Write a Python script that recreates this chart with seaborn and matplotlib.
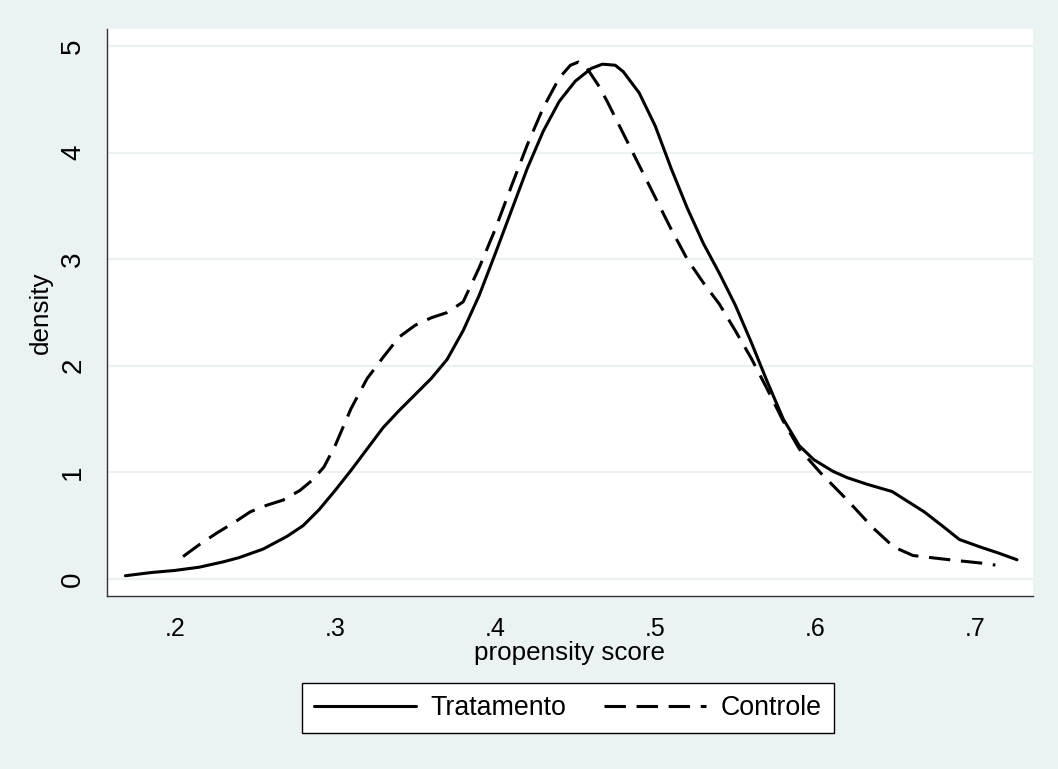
import matplotlib
matplotlib.use('Agg')
import matplotlib.pyplot as plt
from matplotlib.lines import Line2D
import pandas as pd
import seaborn as sns

# Data (kernel density of propensity score)
trat_x = [0.169, 0.185, 0.20, 0.215, 0.23, 0.24, 0.255, 0.27, 0.28, 0.29, 0.30, 0.31,
          0.32, 0.33, 0.34, 0.35, 0.36, 0.37, 0.38, 0.39, 0.40, 0.41, 0.42, 0.43,
          0.44, 0.45, 0.46, 0.467, 0.475, 0.48, 0.49, 0.50, 0.51, 0.52, 0.53, 0.54,
          0.55, 0.56, 0.57, 0.58, 0.59, 0.599, 0.611, 0.62, 0.632, 0.648, 0.668,
          0.68, 0.69, 0.703, 0.715, 0.726]
trat_y = [0.03, 0.06, 0.08, 0.11, 0.16, 0.20, 0.28, 0.40, 0.50, 0.65, 0.83, 1.02,
          1.22, 1.42, 1.58, 1.73, 1.88, 2.06, 2.33, 2.66, 3.05, 3.45, 3.85, 4.20,
          4.48, 4.67, 4.79, 4.83, 4.82, 4.76, 4.56, 4.25, 3.85, 3.48, 3.15, 2.87,
          2.57, 2.22, 1.85, 1.50, 1.25, 1.12, 1.01, 0.95, 0.89, 0.82, 0.63,
          0.49, 0.37, 0.30, 0.24, 0.18]

ctrl_x = [0.205, 0.215, 0.226, 0.237, 0.247, 0.257, 0.2675, 0.278, 0.286, 0.293, 0.30,
          0.31, 0.32, 0.33, 0.34, 0.35, 0.36, 0.37, 0.38, 0.39, 0.40, 0.41, 0.42,
          0.43, 0.44, 0.447, 0.452, 0.457, 0.465, 0.47, 0.48, 0.49, 0.50, 0.51,
          0.52, 0.53, 0.54, 0.55, 0.56, 0.57, 0.58, 0.59, 0.603, 0.62, 0.636,
          0.649, 0.661, 0.678, 0.69, 0.703, 0.7125]
ctrl_y = [0.21, 0.32, 0.43, 0.53, 0.63, 0.69, 0.74, 0.83, 0.93, 1.05, 1.25,
          1.60, 1.88, 2.08, 2.27, 2.38, 2.45, 2.50, 2.60, 2.92, 3.28, 3.68, 4.07,
          4.42, 4.70, 4.82, 4.85, 4.80, 4.62, 4.48, 4.18, 3.88, 3.58, 3.28,
          3.00, 2.78, 2.58, 2.33, 2.07, 1.78, 1.48, 1.22, 1.00, 0.74, 0.48,
          0.30, 0.22, 0.19, 0.17, 0.15, 0.13]

df = pd.concat([
    pd.DataFrame({'ps': trat_x, 'dens': trat_y, 'grupo': 'Tratamento'}),
    pd.DataFrame({'ps': ctrl_x, 'dens': ctrl_y, 'grupo': 'Controle'}),
])

bg = '#EAF2F3'
dash = (7, 3.5)
sns.set_style('white')
plt.rcParams['font.family'] = ['Liberation Sans', 'DejaVu Sans']
plt.rcParams['text.color'] = 'black'
plt.rcParams['axes.labelcolor'] = 'black'
plt.rcParams['xtick.color'] = 'black'
plt.rcParams['ytick.color'] = 'black'

fig = plt.figure(figsize=(10.58, 7.69), dpi=100, facecolor=bg)
ax = fig.add_axes([107 / 1058, 1 - 596 / 769, (1033 - 107) / 1058, (596 - 29) / 769])
ax.set_facecolor('white')

sns.lineplot(data=df, x='ps', y='dens', style='grupo', color='black',
             dashes={'Tratamento': '', 'Controle': dash}, linewidth=2.2,
             sort=False, errorbar=None, legend=False, ax=ax)

ax.set_xlim(0.1575, 0.736)
ax.set_ylim(-0.16, 5.16)
ax.set_xticks([0.2, 0.3, 0.4, 0.5, 0.6, 0.7])
ax.set_xticklabels(['.2', '.3', '.4', '.5', '.6', '.7'])
ax.set_yticks([0, 1, 2, 3, 4, 5])
ax.set_yticklabels(['0', '1', '2', '3', '4', '5'], rotation=90, va='center')
ax.tick_params(axis='both', direction='out', length=8, width=1, color='#333333', pad=7)
ax.tick_params(axis='x', labelsize=18)
ax.tick_params(axis='y', labelsize=20)
ax.yaxis.grid(True, color=bg, linewidth=1.5)
ax.set_axisbelow(True)
for s in ['top', 'right']:
    ax.spines[s].set_visible(False)
for s in ['left', 'bottom']:
    ax.spines[s].set_color('#333333')
    ax.spines[s].set_linewidth(1)

ax.set_xlabel('propensity score', fontsize=18.7, labelpad=0)
ax.set_ylabel('density', fontsize=18.7, labelpad=5)

handles = [Line2D([], [], color='black', lw=2.2),
           Line2D([], [], color='black', lw=2.2, dashes=dash)]
leg = fig.legend(handles, ['Tratamento', 'Controle'], loc='center',
                 bbox_to_anchor=(568 / 1058, 1 - 708 / 769), ncol=2, fontsize=19.3,
                 frameon=True, fancybox=False, edgecolor='black', facecolor='white',
                 handlelength=3.8, handletextpad=0.55, columnspacing=1.4,
                 borderpad=0.45)
leg.get_frame().set_linewidth(1)
leg.get_frame().set_alpha(1)

fig.savefig('out.png', dpi=100, facecolor=bg)
